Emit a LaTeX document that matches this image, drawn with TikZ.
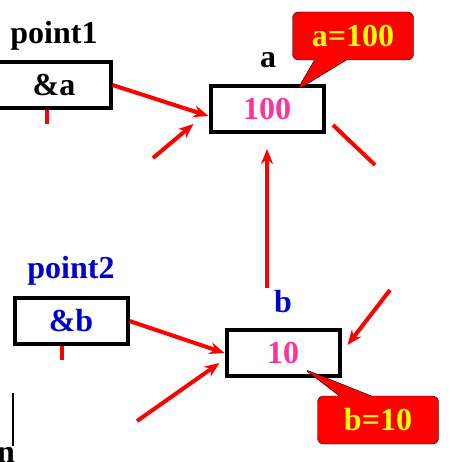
\documentclass[tikz,border=0pt]{standalone}
\usepackage{fontspec}
\setmainfont{Liberation Serif}
\usetikzlibrary{arrows.meta,shapes.callouts}
\definecolor{myred}{HTML}{FF0000}
\definecolor{mypink}{HTML}{FF3399}
\definecolor{myblue}{HTML}{0000CC}
\definecolor{myyellow}{HTML}{FFFF00}
\tikzset{
  big/.style={font=\fontsize{32}{32}\selectfont\bfseries, inner sep=0pt},
  cell/.style={draw, line width=4pt, fill=white, minimum width=113pt, minimum height=46pt, big},
  tag/.style={big},
  arr/.style={draw=myred, line width=4pt, -{Stealth[length=15pt,width=12pt,inset=5pt]}},
  stub/.style={draw=myred, line width=4pt},
  bubble/.style={rectangle callout, draw, thin, fill=myred, text=myyellow, rounded corners=6pt,
                 callout pointer width=32pt, minimum width=121pt, minimum height=48pt, big},
}
\begin{document}
\begin{tikzpicture}[x=1pt,y=-1pt]
  \useasboundingbox (0,0) rectangle (473,462);
  % pointer variables and their targets
  \node[cell] (pa) at (54,85) {\&a};
  \node[tag] (lpa) at (54,36) {point1};
  \node[cell, text=mypink] (a) at (267,109) {100};
  \node[tag] (la) at (268,60) {a};
  \node[cell, text=myblue] (pb) at (71,321) {\&b};
  \node[tag, text=myblue] (lpb) at (71,271) {point2};
  \node[cell, text=mypink] (b) at (283,353) {10};
  \node[tag, text=myblue] (lb) at (283,302) {b};
  % loose ends
  \coordinate (t1) at (153,158);
  \coordinate (t2) at (267,288);
  \coordinate (s1) at (333,125); \coordinate (s2) at (375,165);
  \coordinate (t3) at (390,290);
  \coordinate (t4) at (137,421);
  \coordinate (m1) at (13,393); \coordinate (m2) at (13,446);
  \draw[arr] (pa.east) -- ([yshift=-7pt]a.west);
  \draw[arr] (t1) -- ([xshift=-15pt,yshift=10pt]a.south west);
  \draw[arr] (t2) -- ([yshift=-15pt]a.south);
  \draw[stub] (s1) -- (s2);
  \draw[arr] (t3) -- ([xshift=6pt,yshift=8pt]b.east);
  \draw[arr] (pb.east) -- (b.west);
  \draw[arr] (t4) -- ([xshift=-5pt,yshift=-10pt]b.west);
  \draw[stub] ([xshift=-7pt]pa.south) -- ++(0,14);
  \draw[stub] ([xshift=-9pt]pb.south) -- ++(0,14);
  \draw[line width=2pt] (m1) -- (m2);
  \node[tag] (ln) at (6,455) {n};
  % value callouts
  \node[bubble, callout absolute pointer={([xshift=30pt,yshift=-6pt]a.north)}] (ca) at (353,36) {a=100};
  \node[bubble, callout absolute pointer={([xshift=21pt,yshift=-16pt]b.center)}] (cb) at (378,420) {b=10};
\end{tikzpicture}
\end{document}
